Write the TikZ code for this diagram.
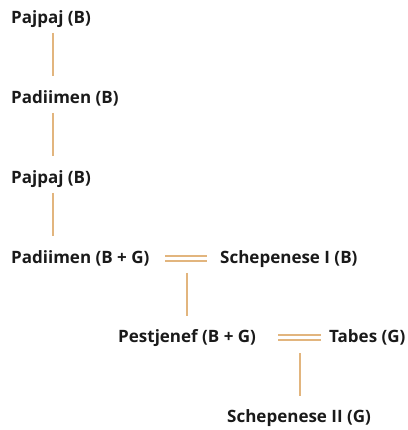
\documentclass[tikz,border=0pt]{standalone}
\usepackage{fontspec}
\setmainfont{Open Sans}
\begin{document}
\begin{tikzpicture}[x=1pt,y=1pt,
  person/.style={anchor=base west,inner sep=0pt,font=\fontsize{17}{20}\selectfont\bfseries,text=textdark},
  conn/.style={draw=linegold,line width=1.1pt}]
\definecolor{textdark}{HTML}{1A1A1A}
\definecolor{linegold}{HTML}{E2B57E}
\useasboundingbox (0,0) rectangle (407,430);
\fill[white] (0,0) rectangle (407,430);
\node[person] (p1) at (11,406) {Pajpaj (B)};
\node[person] (p2) at (11,326) {Padiimen (B)};
\node[person] (p3) at (11,246) {Pajpaj (B)};
\node[person] (p4) at (11,166) {Padiimen (B + G)};
\node[person] (s1) at (220,166) {Schepenese I (B)};
\node[person] (p5) at (118,87) {Pestjenef (B + G)};
\node[person] (t1) at (329,87) {Tabes (G)};
\node[person] (p6) at (227,7) {Schepenese II (G)};
% vertical descent lines
\draw[conn] ([shift={(42,-9)}]p1.base west) -- ([shift={(42,28)}]p2.base west);
\draw[conn] ([shift={(42,-9)}]p2.base west) -- ([shift={(42,28)}]p3.base west);
\draw[conn] ([shift={(42,-9)}]p3.base west) -- ([shift={(42,28)}]p4.base west);
% marriages
\coordinate (m1a) at (165,171.5);
\coordinate (m1b) at (207,171.5);
\coordinate (m1c) at (187,171.5);
\draw[conn] ([yshift=2.5]m1a) -- ([yshift=2.5]m1b);
\draw[conn] ([yshift=-2.5]m1a) -- ([yshift=-2.5]m1b);
\draw[conn] ([yshift=-14.5]m1c) -- ([shift={(69,27)}]p5.base west);
\coordinate (m2a) at (278,92.5);
\coordinate (m2b) at (321,92.5);
\coordinate (m2c) at (300,92.5);
\draw[conn] ([yshift=2.5]m2a) -- ([yshift=2.5]m2b);
\draw[conn] ([yshift=-2.5]m2a) -- ([yshift=-2.5]m2b);
\draw[conn] ([yshift=-16]m2c) -- ([shift={(73,27)}]p6.base west);
\end{tikzpicture}
\end{document}
